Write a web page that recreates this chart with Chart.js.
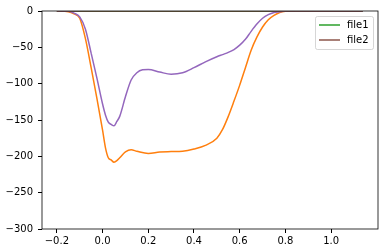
<!DOCTYPE html>
<html>
<head>
<meta charset="utf-8">
<script src="https://cdn.jsdelivr.net/npm/chart.js@4"></script>
<style>
	html, body { margin: 0; padding: 0; background: #fff; }
	#wrap { width: 383px; height: 252px; }
</style>
</head>
<body>
<div id="wrap"><canvas id="chart" width="383" height="252"></canvas></div>
<script>
// values
var orangeX = [-0.2, -0.15, -0.125, -0.1, -0.075, -0.05, -0.025, 0.0, 0.0125, 0.025, 0.0375, 0.05, 0.0625, 0.075, 0.1, 0.125, 0.15, 0.2, 0.25, 0.3, 0.35, 0.4, 0.45, 0.5, 0.525, 0.55, 0.575, 0.6, 0.625, 0.65, 0.675, 0.7, 0.725, 0.75, 0.775, 0.8, 0.85, 0.9, 1.0, 1.138]
var orangeY = [0, -1, -4, -10, -38, -78, -120, -164, -188, -202, -205, -208, -206, -202, -194, -191, -193, -196, -194, -193.5, -193, -190, -185, -175, -163, -145, -124, -102, -78, -54, -36, -22, -12, -6, -2, -0.5, 0, 0, 0, 0]

var purpleX = [-0.2, -0.15, -0.125, -0.1, -0.075, -0.05, -0.025, 0.0, 0.0125, 0.025, 0.0375, 0.05, 0.0625, 0.075, 0.1, 0.125, 0.15, 0.175, 0.2, 0.25, 0.3, 0.35, 0.4, 0.45, 0.5, 0.525, 0.55, 0.575, 0.6, 0.625, 0.65, 0.675, 0.7, 0.725, 0.75, 0.775, 0.8, 0.85, 0.9, 1.0, 1.138]
var purpleY = [0, -0.5, -3, -8, -25, -58, -92, -128, -143, -153, -156, -158, -152, -145, -118, -95, -85, -81, -80.5, -84, -87, -85, -78, -70, -63, -60, -57, -53, -47, -39, -28, -18, -10, -5, -2, -1, 0, 0, 0, 0, 0]

var flatX = [-0.2, 1.138]
var flatY = [0, 0]

var xTicks = [-0.2, 0.0, 0.2, 0.4, 0.6, 0.8, 1.0]
var yTicks = [-300, -250, -200, -150, -100, -50, 0]
var legendNames = ['file1', 'file2']

function pts(xs, ys) {
	var out = []
	for (var i = 0; i < xs.length; i++) out.push({x: xs[i], y: ys[i]})
	return out
}

function fmt(v, digits) {
	var s = Math.abs(v).toFixed(digits)
	return v < 0 ? '\u2212' + s : s
}

var font = {family: 'DejaVu Sans', size: 10}

var frame = {
	id: 'frame',
	afterDraw: function(chart) {
		var c = chart.ctx, a = chart.chartArea
		c.save()
		c.strokeStyle = '#000'
		c.lineWidth = 0.8
		c.strokeRect(a.left, a.top, a.right - a.left, a.bottom - a.top)

		// legend box, upper right
		var w = 58, h = 33, x = a.right - 5 - w, y = a.top + 5
		c.globalAlpha = 0.8
		c.fillStyle = '#fff'
		c.strokeStyle = '#ccc'
		c.lineWidth = 1
		c.beginPath()
		c.roundRect(x + 0.5, y + 0.5, w, h, 2)
		c.fill()
		c.stroke()
		c.globalAlpha = 1
		var cols = ['#2ca02c', '#8c564b']
		c.font = '10px "DejaVu Sans"'
		c.textBaseline = 'middle'
		c.fillStyle = '#000'
		for (var i = 0; i < legendNames.length; i++) {
			var ly = y + 9 + i * 15
			c.strokeStyle = cols[i]
			c.lineWidth = 1.5
			c.beginPath()
			c.moveTo(x + 4, ly)
			c.lineTo(x + 25, ly)
			c.stroke()
			c.fillText(legendNames[i], x + 32, ly)
		}
		c.restore()
	}
}

var ctx = document.getElementById('chart').getContext('2d')
var myChart = new Chart(ctx, {
	type: 'scatter',
	data: {
		datasets: [
			{label: 'a', data: pts(orangeX, orangeY), borderColor: '#ff7f0e', order: 4},
			{label: 'file1', data: pts(flatX, flatY), borderColor: '#2ca02c', order: 3},
			{label: 'b', data: pts(purpleX, purpleY), borderColor: '#9467bd', order: 2},
			{label: 'file2', data: pts(flatX, flatY), borderColor: '#8c564b', order: 1}
		]
	},
	options: {
		responsive: false,
		animation: false,
		showLine: true,
		elements: {
			point: {radius: 0, hoverRadius: 0},
			line: {borderWidth: 1.5, cubicInterpolationMode: 'monotone', fill: false}
		},
		layout: {padding: {top: 10, right: 5, left: 0, bottom: 0}},
		plugins: {legend: {display: false}, tooltip: {enabled: false}},
		scales: {
			x: {
				type: 'linear',
				min: -0.265,
				max: 1.205,
				afterBuildTicks: function(s) { s.ticks = xTicks.map(function(v) { return {value: v} }) },
				afterFit: function(s) { s.height = 23 },
				grid: {drawOnChartArea: false, drawTicks: true, tickLength: 4, color: '#000'},
				border: {display: false},
				ticks: {font: font, color: '#000', padding: 2, maxRotation: 0,
					callback: function(v) { return fmt(v, 1) }}
			},
			y: {
				min: -300,
				max: 0,
				afterBuildTicks: function(s) { s.ticks = yTicks.map(function(v) { return {value: v} }) },
				afterFit: function(s) { s.width = 42 },
				grid: {drawOnChartArea: false, drawTicks: true, tickLength: 4, color: '#000'},
				border: {display: false},
				ticks: {font: font, color: '#000', padding: 5,
					callback: function(v) { return fmt(v, 0) }}
			}
		}
	},
	plugins: [frame]
})
</script>
</body>
</html>
